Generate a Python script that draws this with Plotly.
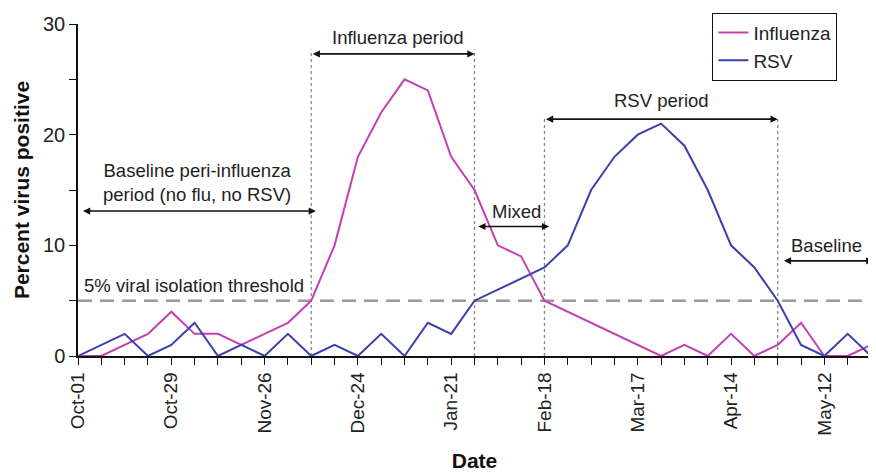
import pandas as pd
import plotly.graph_objects as go

# ---- data ----
weeks = pd.date_range("2007-10-01", periods=35, freq="7D")
influenza = [0, 0, 1, 2, 4, 2, 2, 1, 2, 3, 5, 10, 18, 22, 25, 24, 18, 15, 10, 9,
             5, 4, 3, 2, 1, 0, 1, 0, 2, 0, 1, 3, 0, 0, 1]
rsv = [0, 1, 2, 0, 1, 3, 0, 1, 0, 2, 0, 1, 0, 2, 0, 3, 2, 5, 6, 7,
       8, 10, 15, 18, 20, 21, 19, 15, 10, 8, 5, 1, 0, 2, 0]
threshold = 5

FONT = "Liberation Sans, Arial, sans-serif"
FLU_C = "#C63EB5"
RSV_C = "#3A40AC"

start = weeks[0]
def wk(w):
    return start + pd.Timedelta(days=7 * w)

fig = go.Figure()
fig.add_trace(go.Scatter(x=weeks, y=influenza, mode="lines", name="Influenza",
                         line=dict(color=FLU_C, width=2)))
fig.add_trace(go.Scatter(x=weeks, y=rsv, mode="lines", name="RSV",
                         line=dict(color=RSV_C, width=2)))

# threshold dashed line
fig.add_shape(type="line", xref="paper", x0=0, x1=1, yref="y", y0=threshold, y1=threshold,
              line=dict(color="#999999", width=2.5, dash="14px,8px"), layer="below")

# dotted period boundaries
for w, top in [(10, 27.7), (17, 27.7), (20, 21.6), (30, 21.6)]:
    fig.add_shape(type="line", x0=wk(w), x1=wk(w), y0=0, y1=top, xref="x", yref="y",
                  line=dict(color="#888888", width=1.3, dash="dot"), layer="below")

def dbl_arrow(w0, w1, y):
    fig.add_annotation(x=wk(w1), y=y, ax=wk(w0), ay=y, axref="x", ayref="y",
                       xref="x", yref="y", text="", showarrow=True,
                       arrowside="end+start", arrowhead=2, startarrowhead=2,
                       arrowsize=0.9, startarrowsize=0.9, arrowwidth=1.6,
                       arrowcolor="#111111")

def label(w, y, txt, xanchor="center"):
    fig.add_annotation(x=wk(w), y=y, xref="x", yref="y", text=txt, showarrow=False,
                       xanchor=xanchor, yanchor="middle",
                       font=dict(family=FONT, size=18.5, color="#222222"))

dbl_arrow(10, 17, 27.3)
label(13.7, 28.75, "Influenza period")
dbl_arrow(20, 30, 21.4)
label(25.0, 23.1, "RSV period")
dbl_arrow(0.15, 10.2, 13.1)
label(5.1, 15.7, "Baseline peri-influenza<br>period (no flu, no RSV)")
dbl_arrow(17.1, 20.2, 11.7)
label(18.8, 13.1, "Mixed")
dbl_arrow(30.2, 34.1, 8.6)
label(32.1, 10.0, "Baseline")
label(0.15, 6.4, "5% viral isolation threshold", xanchor="left")

fig.update_layout(
    width=868, height=465,
    margin=dict(l=70, r=5, t=16, b=117, autoexpand=False),
    paper_bgcolor="white", plot_bgcolor="white",
    font=dict(family=FONT, size=18, color="#222222"),
    showlegend=True,
    legend=dict(x=0.8, y=1.034, xanchor="left", yanchor="top",
                bordercolor="#111111", borderwidth=1, bgcolor="white",
                font=dict(family=FONT, size=19, color="#222222"),
                tracegroupgap=0, itemwidth=30),
    xaxis=dict(
        range=[wk(0), wk(34)], type="date", automargin=False,
        tick0=weeks[0], dtick=28 * 86400000, tickformat="%b-%d",
        tickangle=-90, ticks="outside", ticklen=7, tickcolor="#111111",
        tickfont=dict(family=FONT, size=19, color="#222222"),
        minor=dict(dtick=7 * 86400000, tick0=weeks[0], ticks="outside", ticklen=7,
                   tickcolor="#111111"),
        showline=True, linecolor="#111111", linewidth=1.5, showgrid=False, zeroline=False,
        title=dict(text="<b>Date</b>", font=dict(family=FONT, size=21, color="#111111"),
                   standoff=19),
    ),
    yaxis=dict(
        range=[0, 30], dtick=10, ticks="outside", ticklen=7, tickcolor="#111111",
        automargin=False,
        tickfont=dict(family=FONT, size=20, color="#222222"),
        minor=dict(dtick=5, ticks="outside", ticklen=7, tickcolor="#111111"),
        showline=True, linecolor="#111111", linewidth=1.5, showgrid=False, zeroline=False,
        title=dict(text="<b>Percent virus positive</b>",
                   font=dict(family=FONT, size=21, color="#111111"), standoff=8),
    ),
)

fig.write_html("out.html")
